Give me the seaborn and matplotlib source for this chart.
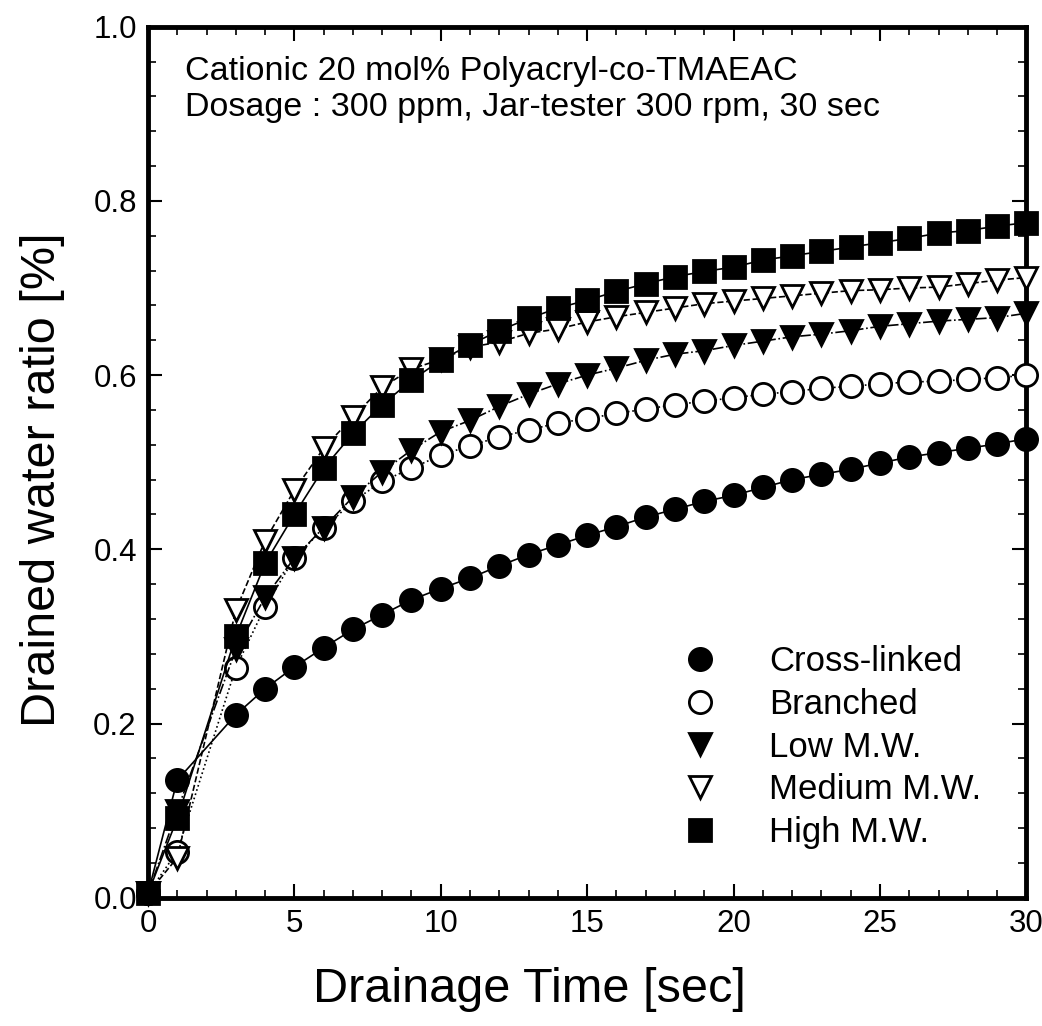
import numpy as np
import pandas as pd
import matplotlib
matplotlib.use("Agg")
import matplotlib.pyplot as plt
import seaborn as sns
from matplotlib.lines import Line2D
from matplotlib.ticker import MultipleLocator

# drainage time [sec] (no reading at 2 sec)
time_sec = [0, 1, 3, 4, 5, 6, 7, 8, 9, 10, 11, 12, 13, 14, 15, 16, 17, 18,
            19, 20, 21, 22, 23, 24, 25, 26, 27, 28, 29, 30]

cross_linked = [0.005, 0.135, 0.210, 0.240, 0.265, 0.287, 0.308, 0.325, 0.342, 0.355,
                0.367, 0.381, 0.394, 0.405, 0.416, 0.426, 0.437, 0.446, 0.455, 0.462,
                0.471, 0.480, 0.486, 0.492, 0.499, 0.506, 0.511, 0.516, 0.521, 0.527]

branched = [0.005, 0.053, 0.264, 0.334, 0.390, 0.424, 0.455, 0.478, 0.493, 0.508,
            0.519, 0.529, 0.537, 0.545, 0.550, 0.556, 0.561, 0.566, 0.570, 0.574,
            0.578, 0.581, 0.585, 0.587, 0.590, 0.592, 0.593, 0.595, 0.597, 0.600]

low_mw = [0.005, 0.100, 0.285, 0.345, 0.390, 0.425, 0.460, 0.489, 0.514, 0.535,
          0.548, 0.564, 0.578, 0.590, 0.600, 0.608, 0.617, 0.624, 0.628, 0.634,
          0.639, 0.644, 0.647, 0.651, 0.656, 0.659, 0.662, 0.664, 0.666, 0.671]

medium_mw = [0.005, 0.046, 0.330, 0.410, 0.468, 0.516, 0.552, 0.586, 0.607, 0.618,
             0.632, 0.638, 0.648, 0.653, 0.661, 0.667, 0.672, 0.677, 0.682, 0.685,
             0.688, 0.691, 0.694, 0.697, 0.698, 0.700, 0.701, 0.705, 0.709, 0.712]

high_mw = [0.005, 0.091, 0.300, 0.384, 0.440, 0.493, 0.533, 0.566, 0.594, 0.617,
           0.635, 0.651, 0.665, 0.677, 0.686, 0.696, 0.705, 0.713, 0.719, 0.724,
           0.732, 0.737, 0.742, 0.747, 0.752, 0.757, 0.763, 0.766, 0.771, 0.775]

series_names = ["Cross-linked", "Branched", "Low M.W.", "Medium M.W.", "High M.W."]

df = pd.DataFrame({
    "Time": time_sec * 5,
    "Ratio": cross_linked + branched + low_mw + medium_mw + high_mw,
    "Polymer": np.repeat(series_names, len(time_sec)),
})

sns.set_style("ticks")
plt.rcParams["font.family"] = ["Liberation Sans", "DejaVu Sans"]
for key in ["text.color", "axes.labelcolor", "xtick.color", "ytick.color", "axes.edgecolor"]:
    plt.rcParams[key] = "black"

fig = plt.figure(figsize=(10.42, 10.26), dpi=100)
ax = fig.add_axes([0.142, 0.125, 0.843, 0.849])

styles = {
    "Cross-linked": dict(marker="o", mfc="black", ls="-"),
    "Branched": dict(marker="o", mfc="white", ls=":"),
    "Low M.W.": dict(marker="v", mfc="black", ls="-."),
    "Medium M.W.": dict(marker="v", mfc="white", ls="--"),
    "High M.W.": dict(marker="s", mfc="black", ls="-"),
}

for name in series_names:
    st = styles[name]
    sub = df[df["Polymer"] == name]
    sns.lineplot(
        data=sub, x="Time", y="Ratio", ax=ax,
        color="black", linewidth=1.2, linestyle=st["ls"],
        marker=st["marker"], markersize=16,
        markerfacecolor=st["mfc"], markeredgecolor="black",
        markeredgewidth=2, clip_on=False, zorder=3,
    )

ax.set_xlim(0, 30)
ax.set_ylim(0, 1.0)
ax.xaxis.set_major_locator(MultipleLocator(5))
ax.xaxis.set_minor_locator(MultipleLocator(1))
ax.yaxis.set_major_locator(MultipleLocator(0.2))
ax.yaxis.set_minor_locator(MultipleLocator(0.04))
ax.yaxis.set_major_formatter(plt.FormatStrFormatter("%.1f"))

ax.tick_params(which="both", direction="in", top=True, right=True, labelsize=22.5, pad=8)
ax.tick_params(which="major", length=10, width=1.5)
ax.tick_params(which="minor", length=6, width=1.2)
for sp in ax.spines.values():
    sp.set_linewidth(3.5)
    sp.set_visible(True)

ax.set_xlabel("Drainage Time [sec]", fontsize=35, labelpad=20)
ax.set_ylabel("Drained water ratio [%]", fontsize=35, labelpad=20)
ax.xaxis.label.set_x(0.434)
ax.yaxis.label.set_y(0.48)

ax.text(0.042, 0.966,
        "Cationic 20 mol% Polyacryl-co-TMAEAC\nDosage : 300 ppm, Jar-tester 300 rpm, 30 sec",
        transform=ax.transAxes, fontsize=24.5, va="top", ha="left", linespacing=1.2)

handles = [
    Line2D([], [], color="black", ls="none", marker=styles[n]["marker"],
           markersize=16, markerfacecolor=styles[n]["mfc"],
           markeredgecolor="black", markeredgewidth=2)
    for n in series_names
]
ax.legend(handles, series_names, loc="lower left", bbox_to_anchor=(0.573, 0.04),
          frameon=False, fontsize=25, handletextpad=1.0, labelspacing=0.28,
          borderaxespad=0)

fig.savefig("out.png", dpi=100)
